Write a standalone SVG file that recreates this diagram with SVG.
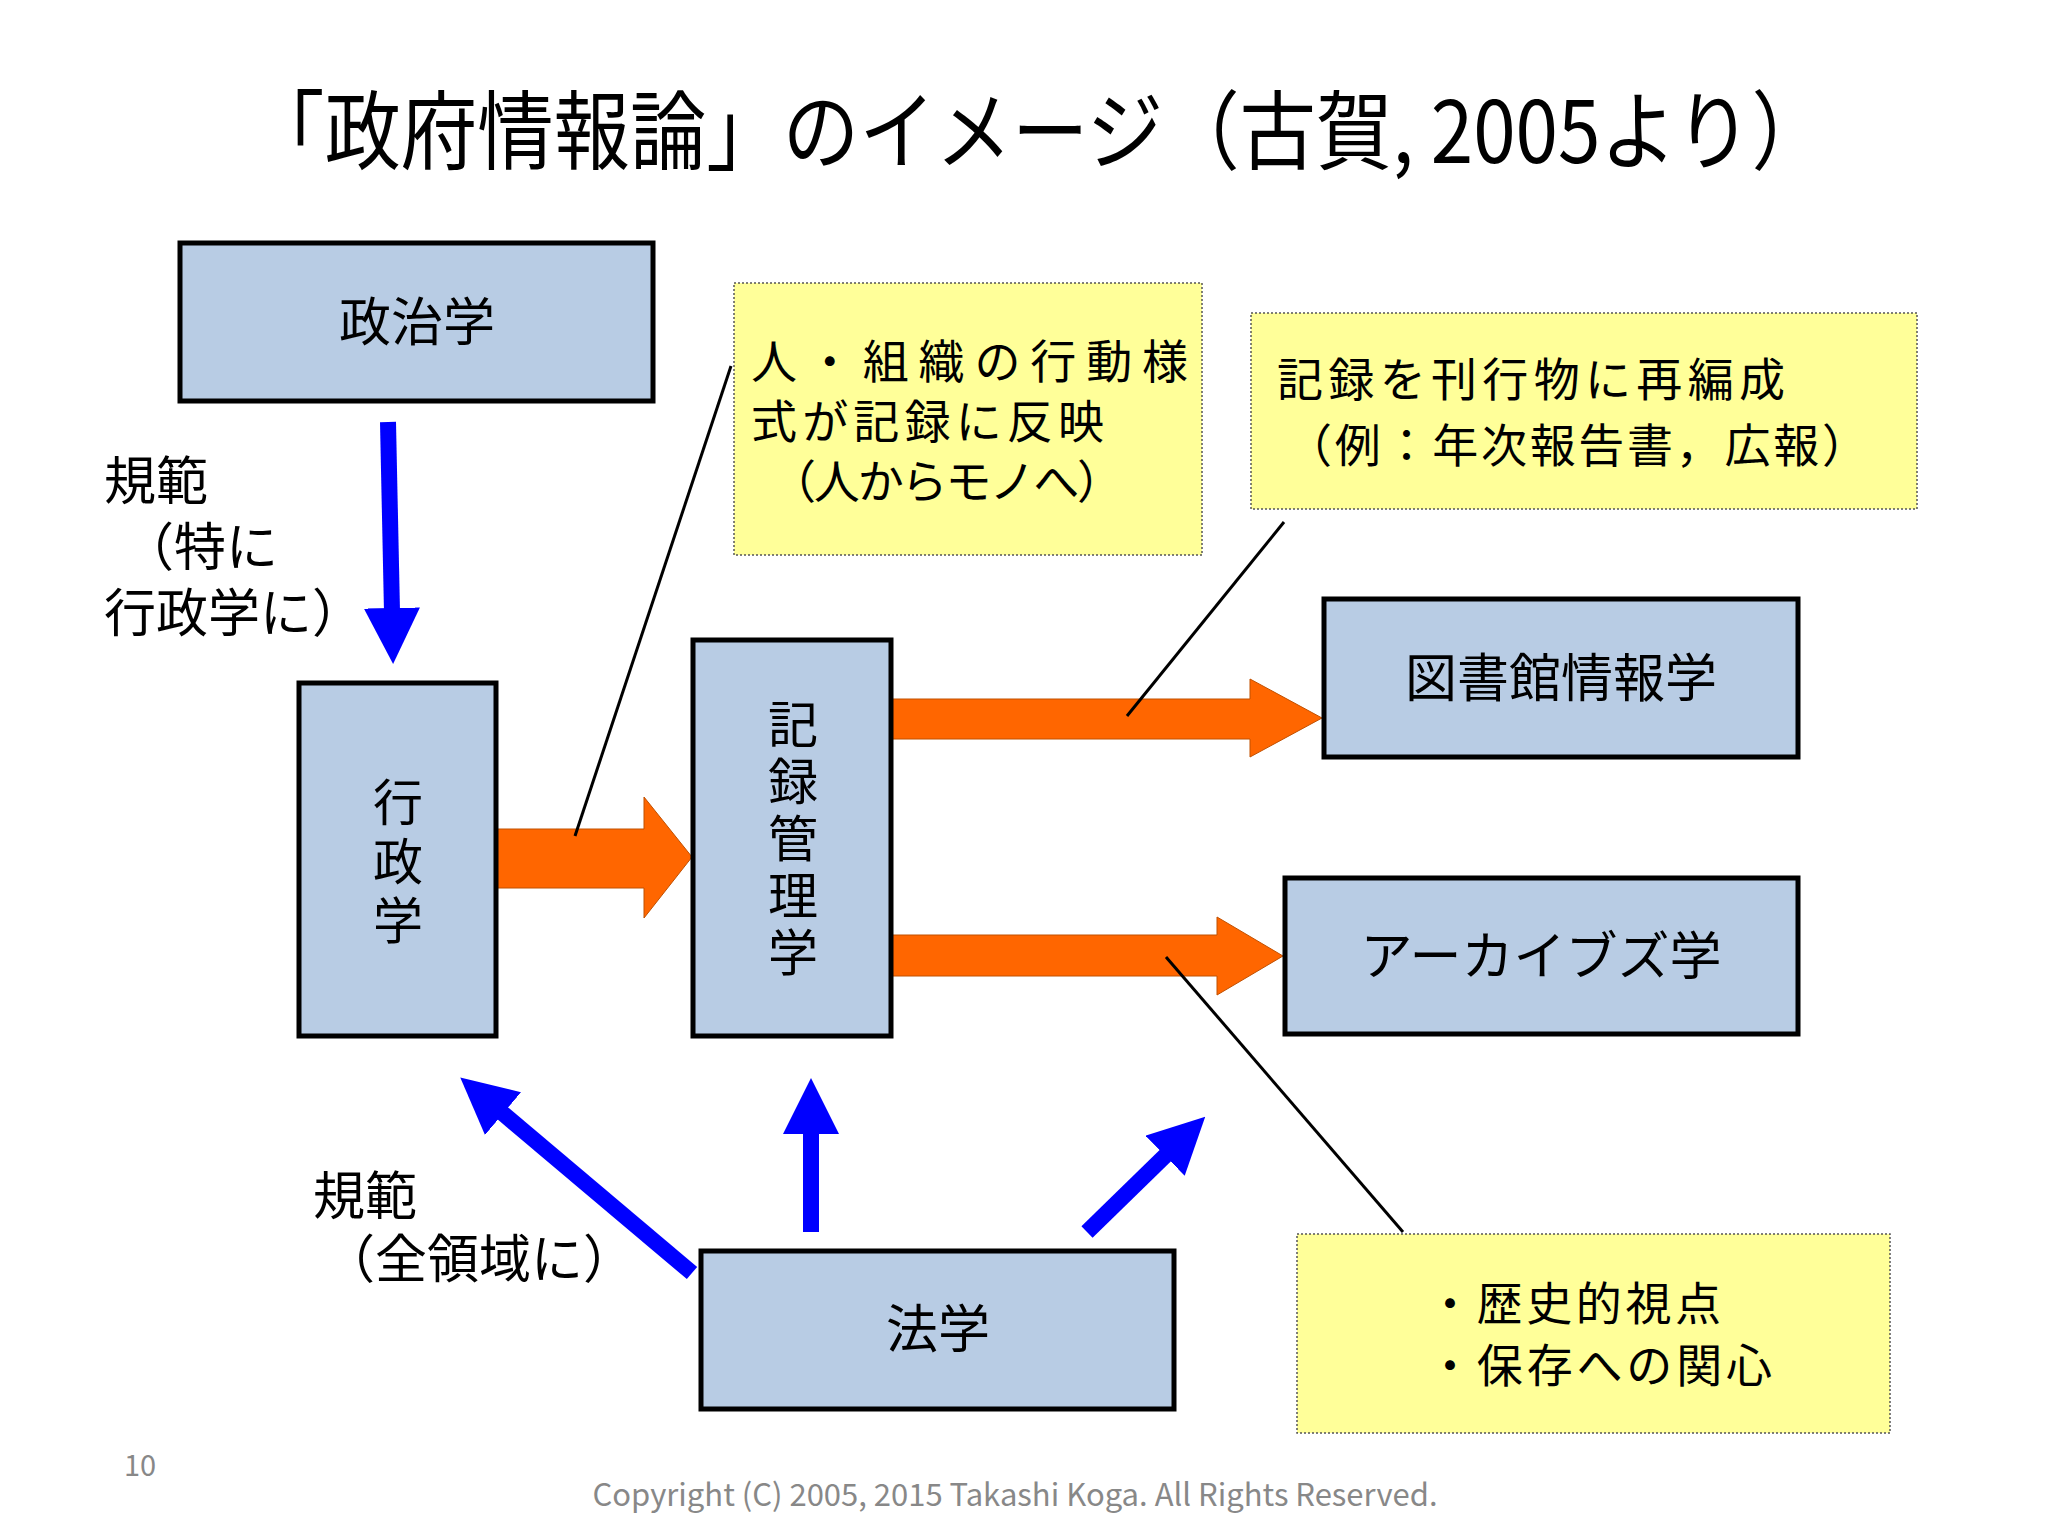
<svg xmlns="http://www.w3.org/2000/svg" width="2048" height="1536" viewBox="0 0 2048 1536">
<style>
text{font-family:"Noto Sans CJK JP","Liberation Sans",sans-serif;fill:#000}
.box{fill:#b8cce4;stroke:#000;stroke-width:5}
.note{fill:#ffff99;stroke:#555;stroke-width:1.5;stroke-dasharray:2 2}
.bl{stroke:#0000ff;stroke-width:16;fill:none}
.ln{stroke:#000;stroke-width:3}
.or{fill:#ff6600;stroke:#c05000;stroke-width:1}
.lbl{font-size:52px}
.vt{font-size:50px}
.nt{font-size:46px}
</style>
<defs>
<marker id="bh" markerUnits="userSpaceOnUse" markerWidth="56" markerHeight="56" refX="4" refY="28" orient="auto">
<path d="M0,0 L56,28 L0,56 Z" fill="#0000ff"/>
</marker>
</defs>
<rect width="2048" height="1536" fill="#fff"/>
<text x="248" y="163" font-size="86" textLength="1580" lengthAdjust="spacingAndGlyphs">「政府情報論」のイメージ（古賀, 2005より）</text>

<g id="connectors">
<line class="bl" x1="388" y1="422" x2="392" y2="612" marker-end="url(#bh)"/>
<line class="bl" x1="811" y1="1232" x2="811" y2="1130" marker-end="url(#bh)"/>
<line class="bl" x1="692" y1="1273" x2="500" y2="1111" marker-end="url(#bh)"/>
<line class="bl" x1="1087" y1="1232" x2="1168" y2="1153" marker-end="url(#bh)"/>
<path class="or" d="M496,829 H644 V797 L692,857 L644,918 V888 H496 Z"/>
<path class="or" d="M891,699 H1250 V679 L1322,718 L1250,757 V739 H891 Z"/>
<path class="or" d="M891,935 H1217 V917 L1283,956 L1217,995 V976 H891 Z"/>
<line class="ln" x1="731" y1="366" x2="575" y2="836"/>
<line class="ln" x1="1284" y1="522" x2="1127" y2="716"/>
<line class="ln" x1="1403" y1="1232" x2="1166" y2="957"/>
</g>

<g id="seijigaku"><rect class="box" x="180" y="243" width="473" height="158"/><text class="lbl" x="417" y="341" text-anchor="middle">政治学</text></g>
<g id="gyoseigaku"><rect class="box" x="299" y="683" width="197" height="353"/>
<text class="vt" x="398" y="821" text-anchor="middle">行</text><text class="vt" x="398" y="880" text-anchor="middle">政</text><text class="vt" x="398" y="939" text-anchor="middle">学</text></g>
<g id="kiroku"><rect class="box" x="693" y="640" width="198" height="396"/>
<text class="vt" x="793" y="743" text-anchor="middle">記</text><text class="vt" x="793" y="800" text-anchor="middle">録</text><text class="vt" x="793" y="857" text-anchor="middle">管</text><text class="vt" x="793" y="914" text-anchor="middle">理</text><text class="vt" x="793" y="971" text-anchor="middle">学</text></g>
<g id="toshokan"><rect class="box" x="1324" y="599" width="474" height="158"/><text class="lbl" x="1561" y="697" text-anchor="middle">図書館情報学</text></g>
<g id="archives"><rect class="box" x="1285" y="878" width="513" height="156"/><text class="lbl" x="1541" y="975" text-anchor="middle">アーカイブズ学</text></g>
<g id="hogaku"><rect class="box" x="701" y="1251" width="473" height="158"/><text class="lbl" x="938" y="1348" text-anchor="middle">法学</text></g>

<g id="note1"><rect class="note" x="734" y="283" width="468" height="272"/>
<text class="nt" x="751" y="378" textLength="437">人・組織の行動様</text><text class="nt" x="751" y="438" textLength="353">式が記録に反映</text><text class="nt" x="770" y="498" textLength="353">（人からモノへ）</text></g>
<g id="note2"><rect class="note" x="1251" y="313" width="666" height="196"/>
<text class="nt" x="1277" y="396" textLength="508">記録を刊行物に再編成</text><text class="nt" x="1286" y="462" textLength="582">（例：年次報告書，広報）</text></g>
<g id="note3"><rect class="note" x="1297" y="1234" width="593" height="199"/>
<text class="nt" x="1427" y="1320" textLength="294">・歴史的視点</text><text class="nt" x="1427" y="1382" textLength="345">・保存への関心</text></g>

<g id="labels">
<text class="lbl" x="104" y="500">規範</text>
<text class="lbl" x="122" y="566">（特に</text>
<text class="lbl" x="104" y="632">行政学に）</text>
<text class="lbl" x="313" y="1215">規範</text>
<text class="lbl" x="323" y="1278">（全領域に）</text>
</g>
<text x="124" y="1476" font-size="29" style="fill:#888">10</text>
<text x="1015" y="1506" font-size="31" text-anchor="middle" style="fill:#888">Copyright (C) 2005, 2015  Takashi Koga. All Rights Reserved.</text>
</svg>
